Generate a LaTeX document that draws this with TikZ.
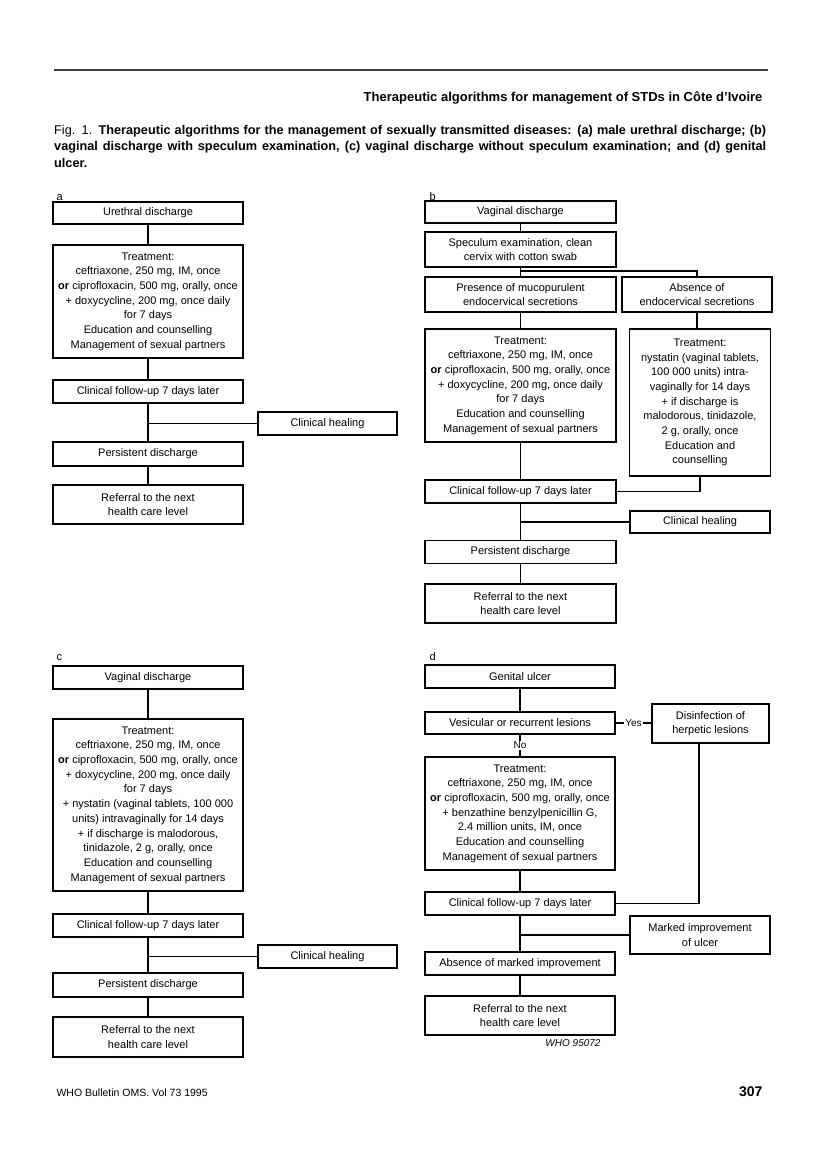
\documentclass[tikz,border=0pt]{standalone}
\usepackage{fontspec}
\setmainfont{Liberation Sans}
\usepackage{tikz}
\usetikzlibrary{positioning}
\newcommand{\boxtext}{\fontsize{11}{14.7}\selectfont}

\begin{document}
\begin{tikzpicture}[
  x=1pt, y=-1pt,
  font=\boxtext,
  stepbox/.style={draw,line width=1.1pt,align=center,inner sep=0pt,minimum width=190,minimum height=23,font=\boxtext},
  sidebox/.style={stepbox,minimum width=140},
  link/.style={line width=1.1pt},
  panel/.style={anchor=base west,font=\fontsize{11}{13}\selectfont},
  answer/.style={fill=white,inner sep=1.5pt,font=\fontsize{10}{12}\selectfont}
]
\useasboundingbox (0,0) rectangle (816,1151);

% page head
\draw[line width=1.5pt,black!75] (54,70) -- (768,70);
\node[anchor=base east,font=\bfseries\fontsize{13}{15}\selectfont] (head) at (766,101.5)
  {Therapeutic algorithms for management of STDs in Côte d'Ivoire};
\node[anchor=north west,text width=712pt,align=justify,inner sep=0pt,
  font=\fontsize{12.7}{16.5}\selectfont] (caption) at (54,125)
  {\noindent Fig. 1. \textbf{Therapeutic algorithms for the management of sexually transmitted diseases: (a) male urethral discharge; (b)\linebreak
  vaginal discharge with speculum examination, (c) vaginal discharge without speculum examination; and (d) genital\linebreak
  ulcer.}};

% a
\node[panel] (labA) at (53,200) {a};
\node[stepbox,minimum height=22] (aStart) at (148,213) {Urethral discharge};
\node[stepbox,minimum height=113] (aTreat) at (148,301.5) {Treatment:\\ceftriaxone, 250 mg, IM, once\\\textbf{or} ciprofloxacin, 500 mg, orally, once\\+ doxycycline, 200 mg, once daily\\for 7 days\\Education and counselling\\Management of sexual partners};
\node[stepbox] (aFollow) at (148,391.5) {Clinical follow-up 7 days later};
\node[sidebox,minimum width=139] (aHeal) at (327.5,423.5) {Clinical healing};
\node[stepbox,minimum height=24] (aPersist) at (148,454) {Persistent discharge};
\node[stepbox,minimum height=39] (aRefer) at (148,504.5) {Referral to the next\\health care level};
\draw[link] (aStart) -- (aTreat);
\draw[link] (aTreat) -- (aFollow);
\draw[link] (aFollow) -- (aPersist);
\draw[link] (aPersist) -- (aRefer);
\draw[link] (aHeal.west) -- (aHeal.west -| aFollow.south);

% b
\node[panel] (labB) at (426,200) {b};
\node[stepbox,minimum width=191,minimum height=22] (bStart) at (520.5,212) {Vaginal discharge};
\node[stepbox,minimum width=191,minimum height=35] (bSpec) at (520.5,249.5) {Speculum examination, clean\\cervix with cotton swab};
\node[stepbox,minimum width=191,minimum height=35] (bPres) at (520.5,294.5) {Presence of mucopurulent\\endocervical secretions};
\node[stepbox,minimum width=150,minimum height=35] (bAbs) at (697,294.5) {Absence of\\endocervical secretions};
\node[stepbox,minimum width=191,minimum height=113] (bTreatL) at (520.5,385.5) {Treatment:\\ceftriaxone, 250 mg, IM, once\\\textbf{or} ciprofloxacin, 500 mg, orally, once\\+ doxycycline, 200 mg, once daily\\for 7 days\\Education and counselling\\Management of sexual partners};
\node[stepbox,minimum width=141,minimum height=147] (bTreatR) at (700,402.5) {Treatment:\\nystatin (vaginal tablets,\\100~000 units) intra-\\vaginally for 14 days\\+ if discharge is\\malodorous, tinidazole,\\2 g, orally, once\\Education and\\counselling};
\node[stepbox,minimum width=191] (bFollow) at (520.5,491.5) {Clinical follow-up 7 days later};
\node[sidebox,minimum height=22] (bHeal) at (700,522) {Clinical healing};
\node[stepbox,minimum width=191] (bPersist) at (520.5,552) {Persistent discharge};
\node[stepbox,minimum width=191,minimum height=39] (bRefer) at (520.5,603.5) {Referral to the next\\health care level};
\coordinate (bSplit) at (520.5,271);
\draw[link] (bStart) -- (bSpec);
\draw[link] (bSpec) -- (bPres);
\draw[link] (bSplit) -| (bAbs.north);
\draw[link] (bAbs.south) -- (bAbs.south |- bTreatR.north);
\draw[link] (bPres) -- (bTreatL);
\draw[link] (bTreatL) -- (bFollow);
\draw[link] (bTreatR.south) |- (bFollow.east);
\draw[link] (bFollow) -- (bPersist);
\draw[link] (bPersist) -- (bRefer);
\draw[link] (bHeal.west) -- (bHeal.west -| bFollow.south);

% c
\node[panel] (labC) at (53,660) {c};
\node[stepbox] (cStart) at (148,677.5) {Vaginal discharge};
\node[stepbox,minimum height=172] (cTreat) at (148,805) {Treatment:\\ceftriaxone, 250 mg, IM, once\\\textbf{or} ciprofloxacin, 500 mg, orally, once\\+ doxycycline, 200 mg, once daily\\for 7 days\\+ nystatin (vaginal tablets, 100~000\\units) intravaginally for 14 days\\+ if discharge is malodorous,\\tinidazole, 2 g, orally, once\\Education and counselling\\Management of sexual partners};
\node[stepbox] (cFollow) at (148,925.5) {Clinical follow-up 7 days later};
\node[sidebox,minimum width=139] (cHeal) at (327.5,956.5) {Clinical healing};
\node[stepbox,minimum height=24] (cPersist) at (148,985) {Persistent discharge};
\node[stepbox,minimum height=40] (cRefer) at (148,1037) {Referral to the next\\health care level};
\draw[link] (cStart) -- (cTreat);
\draw[link] (cTreat) -- (cFollow);
\draw[link] (cFollow) -- (cPersist);
\draw[link] (cPersist) -- (cRefer);
\draw[link] (cHeal.west) -- (cHeal.west -| cFollow.south);

% d
\node[panel] (labD) at (426,660) {d};
\node[stepbox] (dStart) at (520,676.5) {Genital ulcer};
\node[stepbox,minimum height=22] (dVes) at (520,723) {Vesicular or recurrent lesions};
\node[stepbox,minimum width=117,minimum height=39] (dDis) at (710.5,723.5) {Disinfection of\\herpetic lesions};
\node[stepbox,minimum height=113] (dTreat) at (520,813.5) {Treatment:\\ceftriaxone, 250 mg, IM, once\\\textbf{or} ciprofloxacin, 500 mg, orally, once\\+ benzathine benzylpenicillin G,\\2.4 million units, IM, once\\Education and counselling\\Management of sexual partners};
\node[stepbox] (dFollow) at (520,903.5) {Clinical follow-up 7 days later};
\node[sidebox,minimum height=38] (dMark) at (700,935) {Marked improvement\\of ulcer};
\node[stepbox] (dAbsent) at (520,963.5) {Absence of marked improvement};
\node[stepbox,minimum height=39] (dRefer) at (520,1015.5) {Referral to the next\\health care level};
\node[font=\itshape\fontsize{10}{12}\selectfont] (dCode) at (573,1043) {WHO 95072};
\draw[link] (dStart) -- (dVes);
\draw[link] (dVes) -- node[answer] {No} (dTreat);
\draw[link] (dVes.east) -- node[answer] {Yes} (dVes.east -| dDis.west);
\draw[link] ([xshift=-11.5pt]dDis.south) |- (dFollow.east);
\draw[link] (dTreat) -- (dFollow);
\draw[link] (dFollow) -- (dAbsent);
\draw[link] (dAbsent) -- (dRefer);
\draw[link] (dMark.west) -- (dMark.west -| dFollow.south);

% page foot
\node[anchor=base west,font=\fontsize{10.5}{12}\selectfont] (foot) at (53,1096) {WHO Bulletin OMS. Vol 73 1995};
\node[anchor=base east,font=\bfseries\fontsize{14}{16}\selectfont] (page) at (766,1096) {307};
\end{tikzpicture}
\end{document}
